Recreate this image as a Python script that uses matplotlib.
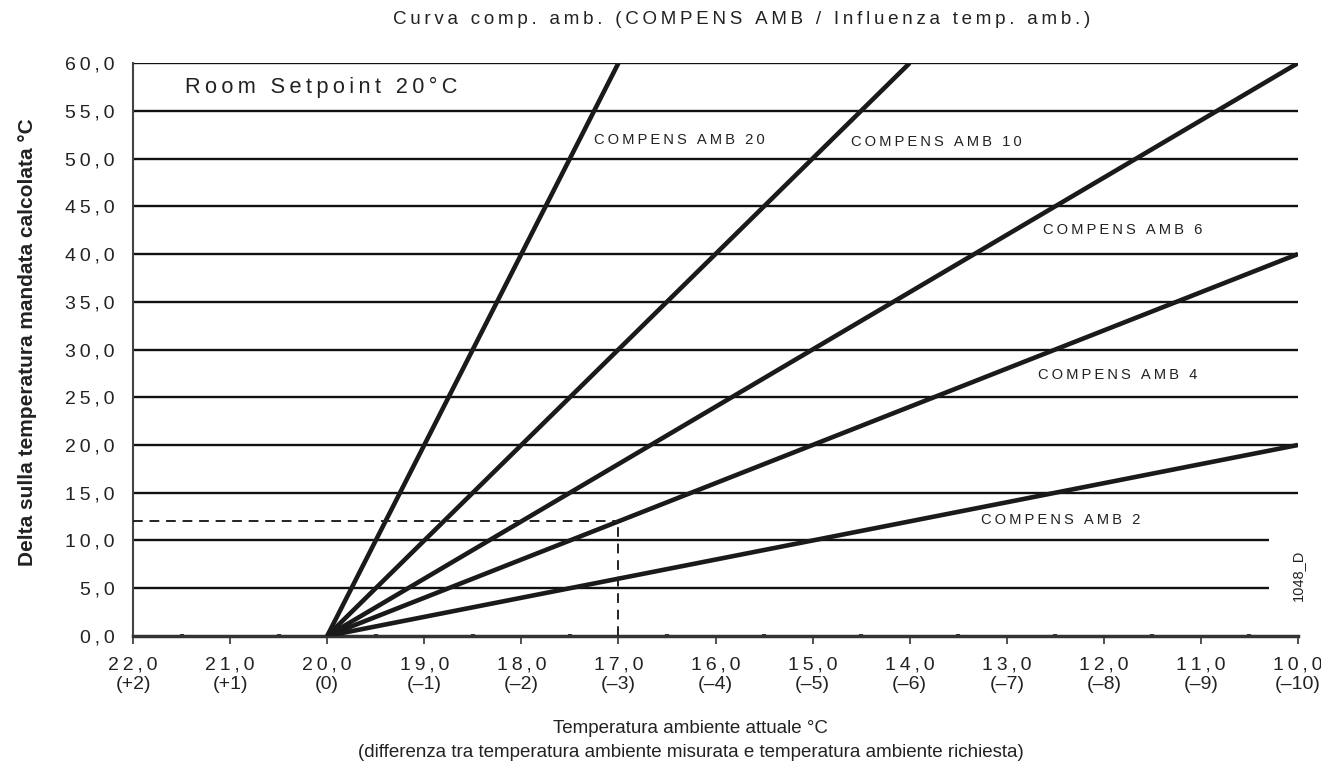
import matplotlib
matplotlib.use("Agg")
import matplotlib.pyplot as plt
import numpy as np

plt.rcParams['font.family'] = ['Liberation Sans', 'DejaVu Sans']

# Room temperature axis (°C) and deviation from the setpoint
x_ticks = [22, 21, 20, 19, 18, 17, 16, 15, 14, 13, 12, 11, 10]
x_dev = ["(+2)", "(+1)", "(0)", "(–1)", "(–2)", "(–3)", "(–4)", "(–5)",
         "(–6)", "(–7)", "(–8)", "(–9)", "(–10)"]
y_ticks = [0, 5, 10, 15, 20, 25, 30, 35, 40, 45, 50, 55, 60]

setpoint = 20.0
compens = [20, 10, 6, 4, 2]
compens_labels = ["COMPENS AMB 20", "COMPENS AMB 10", "COMPENS AMB 6",
                  "COMPENS AMB 4", "COMPENS AMB 2"]
label_pos = [(17.25, 51.9), (14.6, 51.7), (12.63, 42.5), (12.68, 27.3), (13.27, 12.1)]

example_x = 17.0
example_y = 12.0

short_grid = [5, 10]


def spaced(s, sp="\u2009"):
    return sp.join(s)


def fmt(v):
    return f"{v:.1f}".replace(".", ",")


fig = plt.figure(figsize=(13.21, 7.69), dpi=100)
ax = fig.add_axes([0.1007, 0.1730, 0.8819, 0.7450])

ax.set_xlim(22, 10)
ax.set_ylim(0, 60)

# horizontal grid
for y in y_ticks[1:]:
    xe = 10.3 if y in short_grid else 10.0
    ax.plot([22, xe], [y, y], color="#111111", lw=1.7, solid_capstyle="butt", zorder=2)

# compensation lines
for k in compens:
    x_end = max(10.0, setpoint - 60.0 / k)
    xs = np.array([setpoint, x_end])
    ax.plot(xs, k * (setpoint - xs), color="#1a1a1a", lw=3.3,
            solid_capstyle="butt", zorder=3)

for lab, (lx, ly) in zip(compens_labels, label_pos):
    ax.text(lx, ly, spaced(lab), fontsize=10.6, color="#222222",
            ha="left", va="center", zorder=4)

# example reading
ax.plot([22, example_x], [example_y, example_y], color="#222222", lw=1.4,
        ls=(0, (5, 3.5)), zorder=3)
ax.plot([example_x, example_x], [0, example_y], color="#222222", lw=1.4,
        ls=(0, (5, 3.5)), zorder=3)

ax.text(21.46, 57.4, spaced("Room Setpoint 20°C"), fontsize=15.7,
        color="#222222", ha="left", va="center")

ax.text(10.0, 6.4, "1048_D", rotation=90, fontsize=10.5, color="#222222",
        ha="center", va="center")

# axes styling
for s in ("top", "right"):
    ax.spines[s].set_visible(False)
ax.spines["left"].set_color("#444444")
ax.spines["left"].set_linewidth(1.5)
ax.spines["bottom"].set_color("#333333")
ax.spines["bottom"].set_linewidth(2.5)

ax.set_xticks(x_ticks)
ax.set_xticklabels([spaced(fmt(v)) + "\n" + d for v, d in zip(x_ticks, x_dev)],
                   fontsize=14, color="#222222", linespacing=1.15)
ax.set_xticks(np.arange(10.5, 22, 1.0), minor=True)
ax.tick_params(axis="x", which="major", direction="out", length=6, width=1.2,
               color="#333333", pad=9)
ax.tick_params(axis="x", which="minor", direction="inout", length=3, width=3,
               color="#333333")

ax.set_yticks(y_ticks)
ax.set_yticklabels([spaced(fmt(v)) for v in y_ticks], fontsize=14, color="#222222")
ax.tick_params(axis="y", length=0, pad=13)

fig.text(0.021, 0.555, "Delta sulla temperatura mandata calcolata °C",
         rotation=90, fontsize=15, fontweight="bold", color="#222222",
         ha="center", va="center")

fig.text(0.523, 0.053, "Temperatura ambiente attuale °C", fontsize=13.5,
         color="#222222", ha="center", va="center")
fig.text(0.523, 0.022,
         "(differenza tra temperatura ambiente misurata e temperatura ambiente richiesta)",
         fontsize=13.5, color="#222222", ha="center", va="center")

fig.text(0.5617, 0.975,
         spaced("Curva comp. amb. (COMPENS AMB / Influenza temp. amb.)"),
         fontsize=13.5, color="#222222", ha="center", va="center")

fig.savefig("out.png", dpi=100, facecolor="white")
